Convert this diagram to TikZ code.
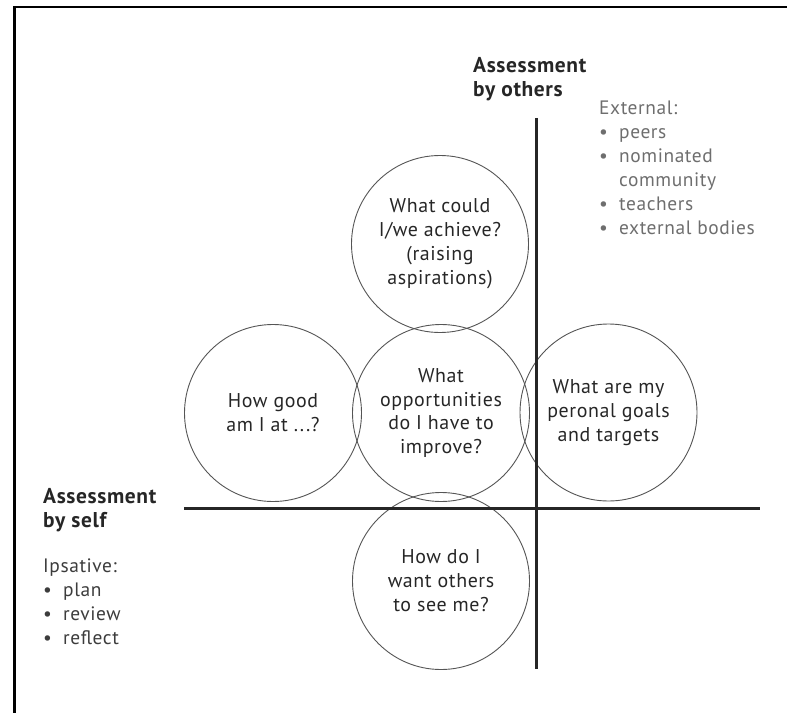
\documentclass[tikz,border=0pt]{standalone}
\usepackage{fontspec}
\setmainfont{PT Sans}[LetterSpace=3]
\usetikzlibrary{positioning}
\definecolor{inkdark}{HTML}{262626}
\definecolor{ringgray}{HTML}{555555}
\definecolor{listdark}{HTML}{3C3C3C}
\definecolor{listlight}{HTML}{6E6E6E}
\newcommand{\bulletrow}[1]{\makebox[20bp][l]{\textbullet}#1}
\newcommand{\bulletcont}[1]{\makebox[20bp][l]{}#1}

\begin{document}
\begin{tikzpicture}[x=1bp, y=-1bp,
question/.style={circle, draw=ringgray, line width=0.9bp, minimum size=177bp, inner sep=0pt, align=center, text=inkdark, font=\fontsize{20}{24}\selectfont},
axisline/.style={draw=inkdark, line width=3bp},
heading/.style={anchor=north west, inner sep=0pt, align=left, text=inkdark, font=\bfseries\fontsize{21.5}{24}\selectfont},
bulletlist/.style={anchor=north west, inner sep=0pt, align=left, font=\fontsize{19.5}{24}\selectfont}
]
\useasboundingbox (0,0) rectangle (787,713);
% frame on top and left
\draw[draw=black, line width=2.5bp] (14.5,713) -- (14.5,7) -- (787,7);

% the five questions
\node[question] (aspire) at (440,244) {What could\\I/we achieve?\\(raising\\aspirations)};
\node[question] (improve) at (441,413) {What\\opportunities\\do I have to\\improve?};
\node[question] (good) at (273,413) {How good\\am I at ...?};
\node[question] (goals) at (608.5,412.5) {What are my\\peronal goals\\and targets};
\node[question] (seen) at (441,581) {How do I\\want others\\to see me?};

% axes
\coordinate (selfL) at (184,508);
\coordinate (selfR) at (760,508);
\coordinate (othersT) at (536,118);
\coordinate (othersB) at (536,669);
\draw[axisline] (selfL) -- (selfR);
\draw[axisline] (othersT) -- (othersB);

% labels
\node[heading] (others) at (473,57) {Assessment\\by others};
\node[heading] (self) at (43,488) {Assessment\\by self};
\node[bulletlist, text=listlight] (external) at (599,101) {External:\\\bulletrow{peers}\\\bulletrow{nominated}\\\bulletcont{community}\\\bulletrow{teachers}\\\bulletrow{external bodies}};
\node[bulletlist, text=listdark] (ipsative) at (43,559) {Ipsative:\\\bulletrow{plan}\\\bulletrow{review}\\\bulletrow{reflect}};
\end{tikzpicture}
\end{document}
